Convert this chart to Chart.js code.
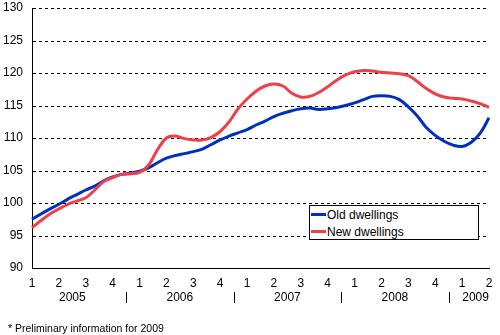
<!DOCTYPE html>
<html>
<head>
<meta charset="utf-8">
<script src="https://cdn.jsdelivr.net/npm/chart.js@4.4.1/dist/chart.umd.min.js"></script>
<style>
  html, body { margin: 0; padding: 0; background: #fff; }
  #wrap { position: relative; width: 500px; height: 335px; font-family: "Liberation Sans", Arial, sans-serif; }
  #chart { position: absolute; left: 0; top: 0; }
  #legend {
    position: absolute; left: 309px; top: 205px; width: 168px; height: 33px;
    border: 1px solid #000; background: #fff; font-size: 12px; color: #000;
  }
  #legend .item { position: absolute; left: 0; height: 14px; line-height: 14px; white-space: nowrap; }
  #legend .swatch { display: inline-block; width: 15px; height: 3px; vertical-align: middle; margin: 0 1px 2px 1px; }
  #note { position: absolute; left: 8px; top: 322px; font-size: 10.5px; color: #000; white-space: nowrap; }
</style>
</head>
<body>
<div id="wrap">
  <canvas id="chart" width="500" height="335"></canvas>
  <div id="legend"></div>
  <div id="note">* Preliminary information for 2009</div>
</div>
<script>
// Monthly index values, Jan 2005 .. Apr 2009 (2005 = 100 base series)
const oldDwellings = [
  97.5, 98.3, 99.1, 99.8, 100.6, 101.3, 102.0, 102.6, 103.4, 104.0, 104.4, 104.6,
  104.9, 105.4, 106.2, 106.9, 107.3, 107.6, 107.9, 108.3, 109.0, 109.7, 110.3, 110.8,
  111.3, 112.0, 112.6, 113.3, 113.8, 114.2, 114.5, 114.6, 114.4, 114.5, 114.7, 115.0,
  115.4, 115.9, 116.4, 116.5, 116.4, 115.9, 114.8, 113.4, 111.6, 110.4, 109.5, 108.9,
  108.7, 109.3, 110.7, 113.1
];
const newDwellings = [
  96.2, 97.3, 98.3, 99.1, 99.8, 100.3, 100.8, 102.0, 103.3, 103.9, 104.4, 104.5,
  104.7, 105.8, 108.2, 110.0, 110.3, 109.9, 109.7, 109.7, 110.1, 111.0, 112.5, 114.5,
  116.0, 117.2, 118.0, 118.3, 118.0, 116.9, 116.3, 116.4, 117.0, 117.9, 118.9, 119.7,
  120.2, 120.4, 120.3, 120.1, 120.0, 119.9, 119.6, 118.7, 117.6, 116.8, 116.3, 116.1,
  116.0, 115.7, 115.3, 114.7
];
const quarterLabels = ['1', '2', '3', '4'];
const years = ['2005', '2006', '2007', '2008', '2009'];
const seriesNames = ['Old dwellings', 'New dwellings'];
const seriesColors = ['#0030c0', '#ef3f48'];
const yTicks = [90, 95, 100, 105, 110, 115, 120, 125, 130];

// one label per month, only quarter starts get a tick text
const labels = oldDwellings.map((_, i) => i % 3 === 0 ? quarterLabels[(i / 3) % 4] : '');

// dashed horizontal grid (3px on, 3px off), drawn under the lines
const dashedGrid = {
  id: 'dashedGrid',
  beforeDatasetsDraw(chart) {
    const { ctx, chartArea } = chart;
    const y = chart.scales.y;
    const left = Math.round(chartArea.left) + 1;
    const right = Math.round(chartArea.right);
    ctx.save();
    ctx.fillStyle = '#000';
    yTicks.forEach(v => {
      if (v === y.min) return;
      const py = Math.round(y.getPixelForValue(v));
      for (let px = left; px < right; px += 6) {
        ctx.fillRect(px, py, Math.min(3, right - px), 1);
      }
    });
    ctx.restore();
  }
};

// year captions and separators under the quarter ticks
const yearAxis = {
  id: 'yearAxis',
  afterDraw(chart) {
    const { ctx } = chart;
    const x = chart.scales.x;
    const step = x.getPixelForValue(3) - x.getPixelForValue(0);
    ctx.save();
    ctx.fillStyle = '#000';
    ctx.strokeStyle = '#000';
    ctx.lineWidth = 1;
    ctx.font = '12px "Liberation Sans", Arial, sans-serif';
    ctx.textAlign = 'center';
    ctx.textBaseline = 'middle';
    years.forEach((yr, k) => {
      const first = k * 12;
      const lastQ = Math.min(first + 9, oldDwellings.length - 1);
      const cx = (x.getPixelForValue(first) + x.getPixelForValue(lastQ)) / 2;
      ctx.fillText(yr, cx, 298);
      if (k > 0) {
        const sx = Math.round(x.getPixelForValue(first) - step / 2) + 0.5;
        ctx.beginPath();
        ctx.moveTo(sx, 292);
        ctx.lineTo(sx, 303);
        ctx.stroke();
      }
    });
    ctx.restore();
  }
};

const chart = new Chart(document.getElementById('chart'), {
  type: 'line',
  data: {
    labels: labels,
    datasets: [oldDwellings, newDwellings].map((d, i) => ({
      label: seriesNames[i],
      data: d,
      borderColor: seriesColors[i],
      backgroundColor: seriesColors[i],
      borderWidth: 3,
      pointRadius: 0,
      tension: 0.4,
      order: 1 - i
    }))
  },
  options: {
    responsive: false,
    animation: false,
    layout: { padding: { top: 8, right: 11, left: 0, bottom: 0 } },
    plugins: { legend: { display: false }, tooltip: { enabled: false } },
    scales: {
      x: {
        offset: false,
        grid: { display: false, drawTicks: false },
        border: { color: '#000', width: 1 },
        ticks: {
          autoSkip: false, maxRotation: 0, padding: 8,
          color: '#000', font: { family: '"Liberation Sans", Arial, sans-serif', size: 12 }
        },
        afterFit: (s) => { s.height = 67; s.paddingLeft = 0; s.paddingRight = 0; }
      },
      y: {
        min: 90, max: 130,
        afterBuildTicks: (s) => { s.ticks = yTicks.map(v => ({ value: v })); },
        grid: { display: false, drawTicks: false },
        border: { color: '#000', width: 1 },
        ticks: {
          padding: 9,
          color: '#000', font: { family: '"Liberation Sans", Arial, sans-serif', size: 12 }
        },
        afterFit: (s) => { s.width = 32; s.paddingTop = 0; s.paddingBottom = 0; }
      }
    }
  },
  plugins: [dashedGrid, yearAxis]
});

// legend box
const legend = document.getElementById('legend');
seriesNames.forEach((name, i) => {
  const row = document.createElement('div');
  row.className = 'item';
  row.style.top = (i === 0 ? 2 : 19) + 'px';
  row.innerHTML = '<span class="swatch" style="background:' + seriesColors[i] + '"></span>' + name;
  legend.appendChild(row);
});
</script>
</body>
</html>
